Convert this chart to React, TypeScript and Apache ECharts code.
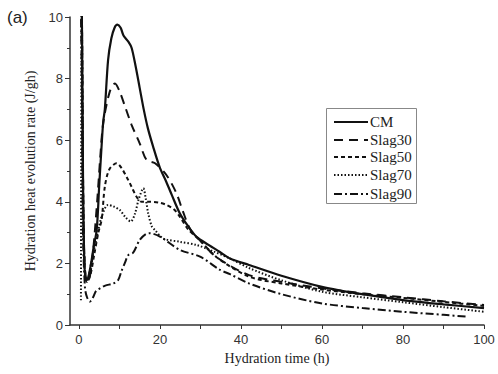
import React, { useEffect, useRef } from "react";
import * as echarts from "echarts";

const seriesNames = ["CM", "Slag30", "Slag50", "Slag70", "Slag90"];

const cmData: number[][] = [
  [0.3, 12], [0.7, 10.5], [1.0, 5], [1.3, 2.2], [1.7, 1.45], [2.2, 1.5], [3, 2], [3.6, 2.5],
  [4.4, 3.1], [5, 4.5], [5.5, 5.6], [6, 6.6], [6.4, 7.0], [7.2, 8.6], [8, 9.3], [8.8, 9.65],
  [9.5, 9.75], [10.3, 9.65], [11, 9.4], [12.2, 9.2], [13, 9.0], [14, 8.4], [15, 7.7], [16, 7.0],
  [17, 6.4], [18.3, 5.8], [20, 5.1], [21.4, 4.7], [23, 4.2], [24.9, 3.63], [27, 3.2], [29, 2.87],
  [32, 2.6], [34.7, 2.38], [37.3, 2.16], [42, 1.95], [50, 1.6], [60, 1.24], [70, 1.0], [80, 0.81],
  [90, 0.67], [100, 0.55],
];

const slag30Data: number[][] = [
  [0.3, 12], [0.7, 10.5], [1.0, 5], [1.4, 2], [2, 1.45], [2.6, 1.5], [3.5, 2.4], [4.5, 4],
  [5.3, 5.5], [6, 6.55], [7.6, 7.57], [8.9, 7.84], [10, 7.6], [11.4, 7.09], [13, 6.5], [15, 5.9],
  [16.7, 5.36], [18.8, 5.25], [21.6, 4.87], [24.1, 4.27], [25.7, 3.68], [27.5, 3.1], [29.8, 2.76],
  [34, 2.2], [42, 1.62], [50, 1.4], [60, 1.19], [70, 1.03], [80, 0.9], [90, 0.77], [100, 0.65],
];

const slag50Data: number[][] = [
  [0.3, 12], [0.7, 10.5], [1.0, 5], [1.4, 2], [2, 1.4], [2.8, 1.6], [3.8, 2.3], [4.8, 3],
  [5.6, 3.41], [6.4, 4.49], [7.5, 5.05], [9.3, 5.25], [10.5, 5.1], [12, 4.75], [13, 4.49],
  [14.2, 4.17], [15.5, 4.0], [17.5, 4.0], [20, 3.97], [21.6, 3.9], [23.5, 3.75], [24.9, 3.52],
  [27, 3.1], [29.8, 2.76], [34, 2.2], [42, 1.57], [50, 1.35], [60, 1.15], [70, 1.0], [80, 0.88],
  [90, 0.75], [100, 0.62],
];

const slag70Data: number[][] = [
  [0.5, 0.8], [0.7, 11], [1.0, 4], [1.5, 1.6], [2, 1.4], [3, 2], [4, 2.6], [5, 3.2], [5.6, 3.52],
  [7.2, 3.9], [8.5, 3.85], [10.1, 3.73], [11.5, 3.5], [12.8, 3.36], [13.8, 3.6], [14.8, 4.1],
  [15.9, 4.44], [16.5, 4.1], [17.1, 3.63], [18, 3.2], [18.8, 3.08], [20.8, 2.81], [25, 2.7],
  [29, 2.6], [33, 2.4], [37.3, 2.16], [42, 1.85], [50, 1.45], [60, 1.08], [70, 0.9], [80, 0.74],
  [90, 0.58], [100, 0.43],
];

const slag90Data: number[][] = [
  [0.3, 12], [0.7, 8], [1.0, 3], [1.5, 1.2], [2, 0.9], [2.7, 0.76], [3.5, 0.9], [4.2, 1.1],
  [5.2, 1.19], [6.5, 1.28], [8.5, 1.35], [9.7, 1.46], [10.5, 1.75], [11.3, 2.0], [12.2, 2.27],
  [13.4, 2.35], [15, 2.76], [16.5, 2.95], [17.5, 2.98], [20, 2.87], [24.9, 2.44], [29.9, 2.22],
  [34.7, 1.8], [37.3, 1.65], [42, 1.35], [50, 1.0], [60, 0.7], [70, 0.55], [80, 0.43], [90, 0.33],
  [96, 0.27],
];

const xTickLabels = [0, 20, 40, 60, 80, 100];
const xTickMarks = [0, 10, 20, 30, 40, 50, 60, 70, 80, 90, 100];

const allData = [cmData, slag30Data, slag50Data, slag70Data, slag90Data];
const dashTypes: any[] = ["solid", [9, 6], [4, 3], [1.5, 2], [8, 3, 2, 3]];
const lineWidths = [2.2, 2, 2, 2, 2];

export default function App() {
  const ref = useRef<HTMLDivElement>(null);
  useEffect(() => {
    if (!ref.current) return;
    const chart = echarts.init(ref.current, null, { renderer: "svg" });
    const serif = "'Liberation Serif', 'Times New Roman', serif";
    const sans = "'Liberation Sans', Arial, sans-serif";

    const legendX = 326;
    const legendY = 108;
    const rowY = [122, 140, 157, 175, 194];
    const legendGraphics: any[] = [
      {
        type: "rect",
        shape: { x: legendX + 0.5, y: legendY + 0.5, width: 90, height: 95 },
        style: { fill: "#fff", stroke: "#888", lineWidth: 1 },
        z: 10,
      },
    ];
    seriesNames.forEach((name, i) => {
      legendGraphics.push({
        type: "line",
        shape: { x1: 334, y1: rowY[i], x2: 368, y2: rowY[i] },
        style: {
          stroke: "#111",
          lineWidth: lineWidths[i],
          lineDash: dashTypes[i] === "solid" ? null : dashTypes[i],
        },
        z: 11,
      });
      legendGraphics.push({
        type: "text",
        x: 370,
        y: rowY[i],
        style: { text: name, font: `15px ${serif}`, fill: "#222", verticalAlign: "middle" },
        z: 11,
      });
    });

    chart.setOption({
      animation: false,
      backgroundColor: "#fff",
      grid: { left: 70, right: 14, top: 17, bottom: 49 },
      graphic: [
        { type: "text", x: 7, y: 9, style: { text: "(a)", font: `17px ${sans}`, fill: "#222" } },
        ...legendGraphics,
      ],
      xAxis: {
        type: "value",
        min: -2.2,
        max: 100,
        name: "Hydration time (h)",
        nameLocation: "middle",
        nameGap: 26,
        nameTextStyle: { fontFamily: serif, fontSize: 14, color: "#222" },
        axisLine: { onZero: false, lineStyle: { color: "#333", width: 1.5 } },
        axisTick: { show: true, customValues: xTickMarks, length: 4, lineStyle: { color: "#333" } },
        axisLabel: { customValues: xTickLabels, fontFamily: sans, fontSize: 13, color: "#333", margin: 8 },
        splitLine: { show: false },
      },
      yAxis: {
        type: "value",
        min: 0,
        max: 10,
        interval: 2,
        name: "Hydration heat evolution rate (J/gh)",
        nameLocation: "middle",
        nameGap: 32,
        nameTextStyle: { fontFamily: serif, fontSize: 14, color: "#222" },
        axisLine: { show: true, onZero: false, lineStyle: { color: "#333", width: 1.5 } },
        axisTick: { show: true, length: 5, lineStyle: { color: "#333" } },
        minorTick: { show: true, splitNumber: 2, length: 3, lineStyle: { color: "#333" } },
        axisLabel: { fontFamily: sans, fontSize: 13, color: "#333", margin: 7 },
        splitLine: { show: false },
      },
      series: seriesNames.map((name, i) => ({
        name,
        type: "line",
        data: allData[i],
        showSymbol: false,
        symbol: "none",
        smooth: 0.3,
        clip: true,
        lineStyle: { color: "#111", type: dashTypes[i], width: lineWidths[i] },
        itemStyle: { color: "#111" },
      })),
    });
    return () => chart.dispose();
  }, []);
  return (
    <div
      ref={ref}
      style={{ position: "absolute", left: 0, top: 0, width: 498, height: 374 }}
    />
  );
}
